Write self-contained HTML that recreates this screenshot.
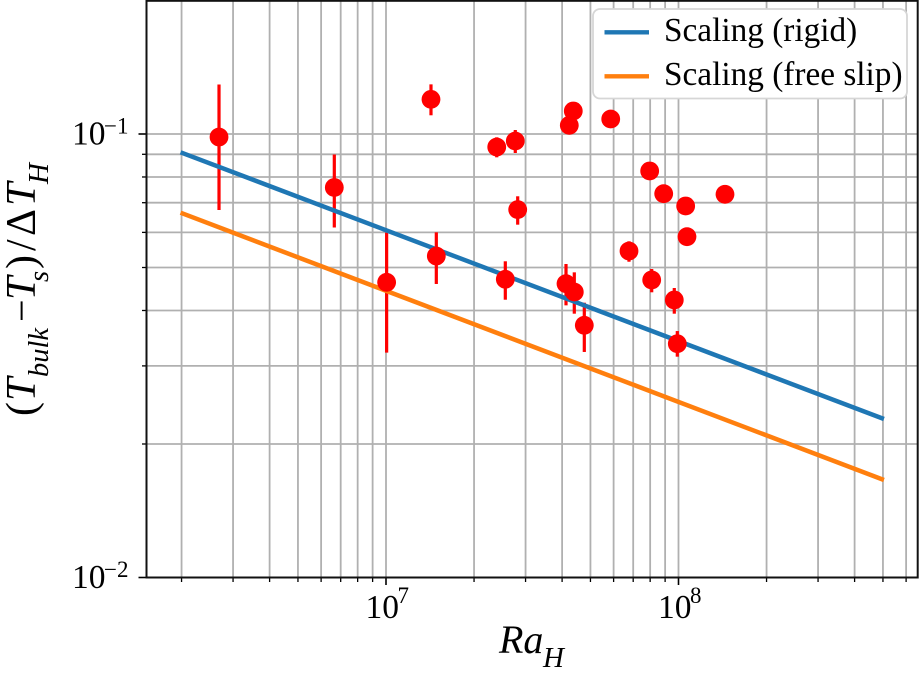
<!DOCTYPE html>
<html>
<head>
<meta charset="utf-8">
<title>Scaling chart</title>
<style>
html,body{margin:0;padding:0;background:#fff;}
svg{display:block;font-family:"Liberation Serif",serif;filter:blur(0.35px);}
</style>
</head>
<body>
<svg id="chart" xmlns="http://www.w3.org/2000/svg" width="919" height="679" viewBox="0 0 919 679">
  <g id="grid"></g>
  <g id="error-bars"></g>
  <g id="lines"></g>
  <g id="markers"></g>
  <g id="ticks"></g>
  <g id="spines"></g>
  <g id="tick-labels"></g>

  <g transform="translate(35,416) rotate(-90)" fill="#000">
    <text x="0" y="0" font-size="42">(</text>
    <text x="15" y="0" font-size="42" font-style="italic">T</text>
    <text x="39" y="13" font-size="28.5" font-style="italic">bulk</text>
    <text x="94" y="0" font-size="40">−</text>
    <text x="116" y="0" font-size="42" font-style="italic">T</text>
    <text x="134" y="13" font-size="28.5" font-style="italic">s</text>
    <text x="147" y="0" font-size="42">)</text>
    <text x="165" y="0" font-size="42">/</text>
    <text x="180" y="0" font-size="42">Δ</text>
    <text x="210" y="0" font-size="42" font-style="italic">T</text>
    <text x="232" y="13" font-size="29" font-style="italic">H</text>
  </g>
  <g fill="#000">
    <text x="499" y="653" font-size="40" font-style="italic">Ra</text>
    <text x="543" y="667" font-size="29" font-style="italic">H</text>
  </g>

  <g>
    <rect x="593" y="9" width="314" height="89.5" rx="7" ry="7" fill="#fff" stroke="#d6d6d6" stroke-width="1.8"></rect>
    <line x1="604.5" y1="32.3" x2="649" y2="32.3" stroke="#1f77b4" stroke-width="4.3"></line>
    <text x="664" y="41" font-size="33.3" fill="#000">Scaling (rigid)</text>
    <line x1="604.5" y1="76.3" x2="649" y2="76.3" stroke="#ff7f0e" stroke-width="4.3"></line>
    <text x="664" y="85" font-size="33.3" fill="#000">Scaling (free slip)</text>
  </g>
</svg>
<script>
// ---- chart data ----
var pointRa = [2.686e6, 6.657e6, 1.005e7, 1.486e7, 1.425e7, 2.391e7, 2.767e7, 2.820e7, 2.558e7, 4.125e7, 4.403e7, 4.764e7, 4.233e7, 4.368e7, 5.865e7, 7.970e7, 8.900e7, 1.058e8, 1.442e8, 1.069e8, 6.773e7, 8.098e7, 9.674e7, 9.906e7];
var pointT = [0.09845, 0.07575, 0.04630, 0.05307, 0.1197, 0.09347, 0.09643, 0.06754, 0.04704, 0.04597, 0.04403, 0.03704, 0.1046, 0.1127, 0.1081, 0.08253, 0.07335, 0.06882, 0.07311, 0.05868, 0.05447, 0.04687, 0.04224, 0.03366];
var errorHigh = [0.1293, 0.08990, 0.05991, 0.06002, 0.1294, 0.0983, 0.1021, 0.07237, 0.05164, 0.05092, 0.04876, 0.04165, 0.1046, 0.1127, 0.1081, 0.08253, 0.07335, 0.06882, 0.07311, 0.05868, 0.05729, 0.04961, 0.04495, 0.03595];
var errorLow = [0.06739, 0.06155, 0.03213, 0.04590, 0.1102, 0.08860, 0.09061, 0.06245, 0.04230, 0.04108, 0.03934, 0.03225, 0.1046, 0.1127, 0.1081, 0.08253, 0.07335, 0.06882, 0.07311, 0.05868, 0.05152, 0.04396, 0.03934, 0.03147];
var lineRa = [2e6, 5e8];
var rigidT = [0.09094, 0.02277];
var freeSlipT = [0.06646, 0.01659];
var xMajorTicks = [1e7, 1e8];
var xMinorTicks = [2e6, 3e6, 4e6, 5e6, 6e6, 7e6, 8e6, 9e6, 2e7, 3e7, 4e7, 5e7, 6e7, 7e7, 8e7, 9e7, 2e8, 3e8, 4e8, 5e8, 6e8];
var yMajorTicks = [0.01, 0.1];
var yMinorTicks = [0.02, 0.03, 0.04, 0.05, 0.06, 0.07, 0.08, 0.09];
var xTickExponents = ['7', '8'];
var yTickExponents = ['−2', '−1'];

// ---- axis functions ----
var plotLeft = 146.5, plotRight = 917.7, plotTop = 0.8, plotBottom = 577.5;
function xScale(v) { return 386 + (Math.log10(v) - 7) * 292.5; }
function yScale(v) { return 134 - (Math.log10(v) + 1) * 443.5; }

var NS = 'http://www.w3.org/2000/svg';
function make(tag, parentId, attrs) {
  var el = document.createElementNS(NS, tag);
  for (var k in attrs) el.setAttribute(k, attrs[k]);
  document.getElementById(parentId).appendChild(el);
  return el;
}

// grid + ticks
xMinorTicks.concat(xMajorTicks).forEach(function (v) {
  var major = xMajorTicks.indexOf(v) >= 0;
  var g = make('line', 'grid', {x1: xScale(v), x2: xScale(v), y1: plotTop, y2: plotBottom, stroke: '#b0b0b0', 'stroke-width': 1.8});
  
  
  var t = make('line', 'ticks', {x1: xScale(v), x2: xScale(v), y1: plotBottom, y2: plotBottom + (major ? 7.5 : 4.5), stroke: '#000', 'stroke-width': major ? 1.6 : 1.3});
  
  
});
yMinorTicks.concat(yMajorTicks).forEach(function (v) {
  var major = yMajorTicks.indexOf(v) >= 0;
  var g = make('line', 'grid', {x1: plotLeft, x2: plotRight, y1: yScale(v), y2: yScale(v), stroke: '#b0b0b0', 'stroke-width': 1.8});
  
  
  var t = make('line', 'ticks', {x1: plotLeft - (major ? 8 : 4.5), x2: plotLeft, y1: yScale(v), y2: yScale(v), stroke: '#000', 'stroke-width': major ? 1.6 : 1.3});
  
  
});

// error bars
pointRa.forEach(function (v, i) {
  if (errorHigh[i] === errorLow[i]) return;
  var b = make('line', 'error-bars', {x1: xScale(v), x2: xScale(v), y1: yScale(errorHigh[i]), y2: yScale(errorLow[i]), stroke: '#ff0000', 'stroke-width': 3.2});
  
  
});

// scaling lines
var rigidLine = make('line', 'lines', {x1: xScale(lineRa[0]) - 1, y1: yScale(rigidT[0]), x2: xScale(lineRa[1]) + 1, y2: yScale(rigidT[1]), stroke: '#1f77b4', 'stroke-width': 4.5});


var freeLine = make('line', 'lines', {x1: xScale(lineRa[0]) - 1, y1: yScale(freeSlipT[0]), x2: xScale(lineRa[1]) + 1, y2: yScale(freeSlipT[1]), stroke: '#ff7f0e', 'stroke-width': 4.5});



// markers
pointRa.forEach(function (v, i) {
  var c = make('circle', 'markers', {cx: xScale(v), cy: yScale(pointT[i]), r: 9.4, fill: '#ff0000'});
  
  
});

// spines
var frame = make('rect', 'spines', {x: plotLeft, y: plotTop, width: plotRight - plotLeft, height: plotBottom - plotTop, fill: 'none', stroke: '#111', 'stroke-width': 2});



// tick labels
xMajorTicks.forEach(function (v, i) {
  var base = make('text', 'tick-labels', {x: xScale(v) - 20.5, y: 618, 'font-size': 33.5, fill: '#000'});
  base.textContent = '10';
  
  
  var sup = make('text', 'tick-labels', {x: xScale(v) + 11.5, y: 603, 'font-size': 23, fill: '#000'});
  sup.textContent = xTickExponents[i];
  
  
});
yMajorTicks.forEach(function (v, i) {
  var base = make('text', 'tick-labels', {x: 72, y: yScale(v) + 10.5, 'font-size': 33.5, fill: '#000'});
  base.textContent = '10';
  
  
  var sup = make('text', 'tick-labels', {x: 104, y: yScale(v) - 0.5, 'font-size': 23, fill: '#000'});
  sup.textContent = yTickExponents[i];
  
  
});
</script>
</body>
</html>
